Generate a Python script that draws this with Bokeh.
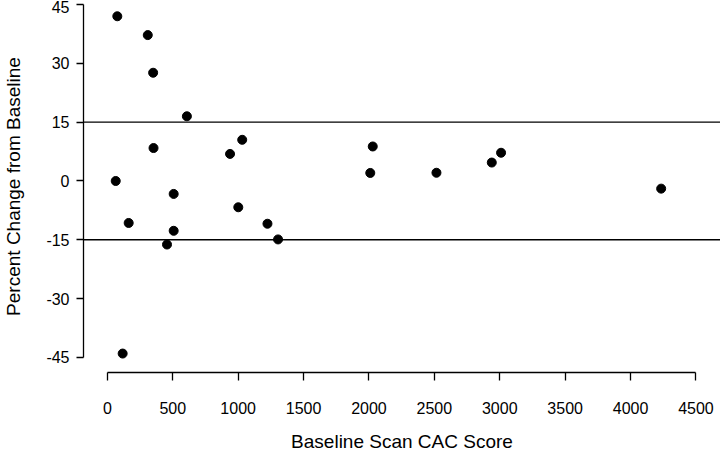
from bokeh.plotting import figure
from bokeh.models import Range1d, FixedTicker, Span, ColumnDataSource
from bokeh.embed import file_html
from bokeh.resources import INLINE

# Data
cac_score = [76, 309, 350, 608, 353, 938, 1031, 64, 507, 1001, 163,
             507, 456, 117, 2029, 2010, 2516, 2939, 3010, 1224, 1305, 4234]
pct_change = [42.0, 37.2, 27.6, 16.5, 8.4, 6.9, 10.5, 0.0, -3.3, -6.7, -10.7,
              -12.7, -16.2, -44.0, 8.8, 2.05, 2.1, 4.7, 7.2, -10.9, -14.9, -1.95]

x_ticks = [0, 500, 1000, 1500, 2000, 2500, 3000, 3500, 4000, 4500]
y_ticks = [-45, -30, -15, 0, 15, 30, 45]
y_tick_labels = ["-45", "-30", "-15", "0", "15", "30", "45"]
ref_lines = [15, -15]

FONT = "Liberation Sans"

p = figure(width=720, height=456, output_backend="svg", toolbar_location=None,
           x_range=Range1d(-182.4, 4687.6), y_range=Range1d(-48.83, 46.02),
           min_border_left=79, min_border_right=0, min_border_top=0,
           min_border_bottom=84)
p.outline_line_color = None
p.grid.visible = False
p.background_fill_color = "white"
p.border_fill_color = "white"

src = ColumnDataSource(dict(x=cac_score, y=pct_change))
p.scatter("x", "y", source=src, size=9, fill_color="black", line_color="black")

for v in ref_lines:
    p.add_layout(Span(location=v, dimension="width", line_color="black",
                      line_width=1.4))

xa = p.xaxis[0]
xa.ticker = FixedTicker(ticks=x_ticks)
xa.bounds = (0, 4500)
xa.axis_label = "Baseline Scan CAC Score"
xa.major_tick_out = 8
xa.major_tick_in = 0
xa.minor_tick_out = 0
xa.minor_tick_in = 0
xa.major_label_standoff = 21
xa.axis_label_standoff = 14

ya = p.yaxis[0]
ya.ticker = FixedTicker(ticks=y_ticks)
ya.major_label_overrides = {t: s for t, s in zip(y_ticks, y_tick_labels)}
ya.bounds = (-45, 45)
ya.axis_label = "Percent Change from Baseline"
ya.major_tick_out = 7
ya.major_tick_in = 0
ya.minor_tick_out = 0
ya.minor_tick_in = 0
ya.major_label_standoff = 7
ya.axis_label_standoff = 19
ya.major_label_orientation = "horizontal"

for ax in (xa, ya):
    ax.axis_line_color = "black"
    ax.axis_line_width = 1.3
    ax.major_tick_line_color = "black"
    ax.major_tick_line_width = 1.3
    ax.major_label_text_font = FONT
    ax.major_label_text_font_size = "16px"
    ax.major_label_text_color = "black"
    ax.axis_label_text_font = FONT
    ax.axis_label_text_font_size = "19px"
    ax.axis_label_text_font_style = "normal"
    ax.axis_label_text_color = "black"

open("out.html", "w").write(file_html(p, INLINE))
